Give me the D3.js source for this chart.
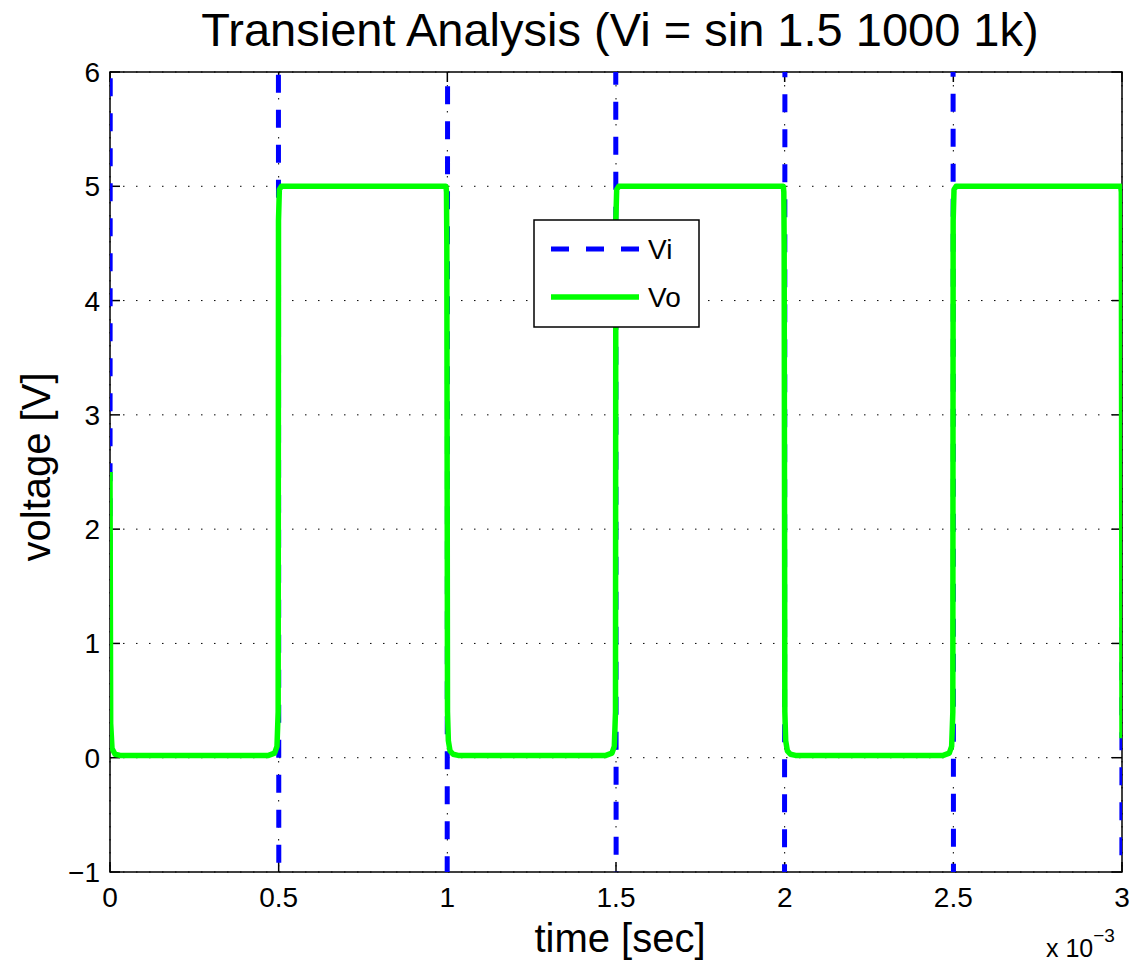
<!DOCTYPE html>
<html lang="en">
<head>
    <meta charset="UTF-8">
    <title>Transient Analysis</title>
    <style>
        body {
            margin: 0;
            padding: 0;
            background-color: #fff;
        }
        svg text {
            font-family: 'Liberation Sans', Arial, Helvetica, sans-serif;
            fill: #000;
        }
    </style>
    <script src="https://d3js.org/d3.v7.min.js"></script>
</head>
<body>
    <div id="chart"></div>

    <script>
        // time in ms (axis is labelled x 10^-3 sec)
        var viTime = [0, 0.001, 0.25, 0.499, 0.501, 0.75, 0.999, 1.001, 1.25, 1.499, 1.501, 1.75,
                      1.999, 2.001, 2.25, 2.499, 2.501, 2.75, 2.999, 3.0];
        var viVolt = [1.5, 7.8, 1001.5, 7.8, -4.8, -998.5, -4.8, 7.8, 1001.5, 7.8, -4.8, -998.5,
                      -4.8, 7.8, 1001.5, 7.8, -4.8, -998.5, -4.8, 1.5];

        var voTime = [0, 0.002, 0.006, 0.015, 0.03, 0.47, 0.488, 0.495, 0.4985, 0.4995, 0.502, 0.508,
                      0.996, 0.9975, 0.9985, 1.0005, 1.003, 1.008, 1.017, 1.032, 1.47, 1.488, 1.495, 1.4985, 1.4995, 1.502, 1.508,
                      1.996, 1.9975, 1.9985, 2.0005, 2.003, 2.008, 2.017, 2.032, 2.47, 2.488, 2.495, 2.4985, 2.4995, 2.502, 2.508,
                      2.996, 2.998, 3.0];
        var voVolt = [2.5, 0.3, 0.08, 0.03, 0.02, 0.02, 0.04, 0.1, 0.4, 4.7, 4.97, 5.0,
                      5.0, 4.95, 4.5, 0.4, 0.15, 0.06, 0.03, 0.02, 0.02, 0.04, 0.1, 0.4, 4.7, 4.97, 5.0,
                      5.0, 4.95, 4.5, 0.4, 0.15, 0.06, 0.03, 0.02, 0.02, 0.04, 0.1, 0.4, 4.7, 4.97, 5.0,
                      5.0, 4.95, 0.17];

        var xTicks = [0, 0.5, 1, 1.5, 2, 2.5, 3];
        var yTicks = [-1, 0, 1, 2, 3, 4, 5, 6];
        var seriesNames = ['Vi', 'Vo'];

        var W = 1135, H = 962;
        var pLeft = 110, pRight = 1122, pTop = 72, pBottom = 872;

        var svg = d3.select('#chart').append('svg')
            .attr('width', W)
            .attr('height', H);

        var x = d3.scaleLinear().domain([0, 3]).range([pLeft, pRight]);
        var y = d3.scaleLinear().domain([-1, 6]).range([pBottom, pTop]);

        svg.append('defs').append('clipPath').attr('id', 'plotclip')
            .append('rect')
            .attr('x', pLeft).attr('y', pTop)
            .attr('width', pRight - pLeft).attr('height', pBottom - pTop);

        // dotted grid
        var grid = svg.append('g');
        grid.selectAll('.gx').data(xTicks).enter().append('line')
            .attr('x1', d => x(d)).attr('x2', d => x(d))
            .attr('y1', pTop).attr('y2', pBottom)
            .attr('stroke', '#000').attr('stroke-width', 1)
            .attr('stroke-dasharray', '1.5,11.5');
        grid.selectAll('.gy').data(yTicks).enter().append('line')
            .attr('y1', d => y(d)).attr('y2', d => y(d))
            .attr('x1', pLeft).attr('x2', pRight)
            .attr('stroke', '#000').attr('stroke-width', 1)
            .attr('stroke-dasharray', '1.5,11.5');

        // box
        svg.append('rect')
            .attr('x', pLeft).attr('y', pTop)
            .attr('width', pRight - pLeft).attr('height', pBottom - pTop)
            .attr('fill', 'none').attr('stroke', '#000').attr('stroke-width', 1.5);

        // inward ticks on all sides
        var ticks = svg.append('g').attr('stroke', '#000').attr('stroke-width', 1.5);
        xTicks.forEach(function (t) {
            ticks.append('line').attr('x1', x(t)).attr('x2', x(t)).attr('y1', pBottom).attr('y2', pBottom - 10);
            ticks.append('line').attr('x1', x(t)).attr('x2', x(t)).attr('y1', pTop).attr('y2', pTop + 10);
        });
        yTicks.forEach(function (v) {
            ticks.append('line').attr('y1', y(v)).attr('y2', y(v)).attr('x1', pLeft).attr('x2', pLeft + 10);
            ticks.append('line').attr('y1', y(v)).attr('y2', y(v)).attr('x1', pRight).attr('x2', pRight - 10);
        });

        // tick labels
        var fmt = d3.format('');
        svg.selectAll('.xl').data(xTicks).enter().append('text')
            .attr('x', d => x(d)).attr('y', 907)
            .attr('text-anchor', 'middle')
            .attr('font-size', 28)
            .text(d => fmt(d));
        svg.selectAll('.yl').data(yTicks).enter().append('text')
            .attr('x', 100).attr('y', d => y(d) + 10)
            .attr('text-anchor', 'end')
            .attr('font-size', 28)
            .text(d => fmt(d));

        // data lines
        var plot = svg.append('g').attr('clip-path', 'url(#plotclip)');
        var line = d3.line().x(d => x(d[0])).y(d => y(d[1]));

        var viData = viTime.map((t, i) => [t, viVolt[i]]);
        var voData = voTime.map((t, i) => [t, voVolt[i]]);

        plot.append('path')
            .datum(viData)
            .attr('d', line)
            .attr('fill', 'none')
            .attr('stroke', '#0000ff')
            .attr('stroke-width', 5)
            .attr('stroke-dasharray', '18,17');

        plot.append('path')
            .datum(voData)
            .attr('d', line)
            .attr('fill', 'none')
            .attr('stroke', '#00ff00')
            .attr('stroke-width', 5.5)
            .attr('stroke-linejoin', 'round');

        // title and axis labels
        svg.append('text')
            .attr('x', (pLeft + pRight) / 2 + 4).attr('y', 46)
            .attr('text-anchor', 'middle')
            .attr('font-size', 47)
            .text('Transient Analysis (Vi = sin 1.5 1000 1k)');

        svg.append('text')
            .attr('x', (pLeft + pRight) / 2 + 4).attr('y', 952)
            .attr('text-anchor', 'middle')
            .attr('font-size', 40)
            .text('time [sec]');

        svg.append('text')
            .attr('transform', 'translate(50,467) rotate(-90)')
            .attr('text-anchor', 'middle')
            .attr('font-size', 40)
            .text('voltage [V]');

        var expo = svg.append('text')
            .attr('x', 1046).attr('y', 957)
            .attr('font-size', 25);
        expo.append('tspan').text('x 10');
        expo.append('tspan').attr('dy', -15).attr('font-size', 19).text('\u22123');

        // legend
        var legend = svg.append('g');
        legend.append('rect')
            .attr('x', 534).attr('y', 220)
            .attr('width', 165).attr('height', 107)
            .attr('fill', '#fff').attr('stroke', '#000').attr('stroke-width', 1.5);
        var legY = [249, 297];
        legend.append('line')
            .attr('x1', 551).attr('x2', 639).attr('y1', legY[0]).attr('y2', legY[0])
            .attr('stroke', '#0000ff').attr('stroke-width', 5)
            .attr('stroke-dasharray', '18,17');
        legend.append('line')
            .attr('x1', 551).attr('x2', 639).attr('y1', legY[1]).attr('y2', legY[1])
            .attr('stroke', '#00ff00').attr('stroke-width', 5.5);
        legend.selectAll('.lt').data(seriesNames).enter().append('text')
            .attr('x', 648).attr('y', (d, i) => legY[i] + 10)
            .attr('font-size', 28)
            .text(d => d);
    </script>
</body>
</html>
